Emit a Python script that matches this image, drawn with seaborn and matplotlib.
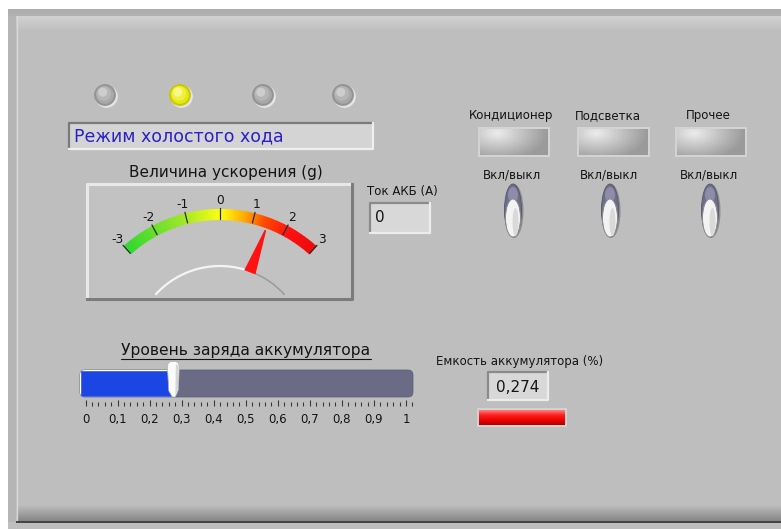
import numpy as np
import pandas as pd
import seaborn as sns
import matplotlib.pyplot as plt
from matplotlib.patches import Rectangle, FancyBboxPatch, Ellipse, Polygon, Wedge, Arc
from matplotlib.colors import LinearSegmentedColormap
from matplotlib.ticker import MultipleLocator, FuncFormatter

# Данные панели
led_states = [0, 1, 0, 0]          # горит второй индикатор
mode_text = 'Режим холостого хода'

gauge_title = 'Величина ускорения (g)'
gauge_ticks = [-3, -2, -1, 0, 1, 2, 3]
gauge_value = 1.45

current_label = 'Ток АКБ (А)'
current_value = '0'

switch_names = ['Кондиционер', 'Подсветка', 'Прочее']
switch_caption = 'Вкл/выкл'

charge_title = 'Уровень заряда аккумулятора'
charge_value = 0.274
charge_ticks = [0, 0.1, 0.2, 0.3, 0.4, 0.5, 0.6, 0.7, 0.8, 0.9, 1.0]

capacity_label = 'Емкость аккумулятора (%)'
capacity_text = '0,274'

# Размеры и стиль
W, H = 781, 529
sns.set_style('white')
plt.rcParams['font.family'] = ['DejaVu Sans']
TXT = '#151515'

fig = plt.figure(figsize=(W / 100, H / 100), dpi=100, facecolor='white')
ax = fig.add_axes([0, 0, 1, 1])
ax.set_axis_off()


def vgrad(x0, y0, x1, y1, colors, z=1):
    cmap = LinearSegmentedColormap.from_list('g', colors)
    ax.imshow(np.linspace(0, 1, 64).reshape(-1, 1), cmap=cmap, extent=(x0, x1, y1, y0),
              aspect='auto', zorder=z, interpolation='bilinear')


def bevel(x0, y0, x1, y1, face, tl, br, lw=1.5, z=2):
    ax.add_patch(Rectangle((x0, y0), x1 - x0, y1 - y0, facecolor=face, edgecolor='none', zorder=z))
    ax.plot([x0, x0, x1], [y1, y0, y0], color=tl, lw=lw, zorder=z + 0.1, solid_capstyle='projecting')
    ax.plot([x0, x1, x1], [y1, y1, y0], color=br, lw=lw, zorder=z + 0.1, solid_capstyle='projecting')


# Фон панели
ax.add_patch(Rectangle((8, 9), W - 8, H - 9, facecolor='#bebebe', edgecolor='none', zorder=0))
vgrad(8, 9, W, 16, ['#acacac', '#b2b2b2'])
vgrad(16, 16, W, 30, ['#d2d2d2', '#c0c0c0'])
ax.add_patch(Rectangle((8, 16), 8, 506, facecolor='#b5b5b5', edgecolor='none', zorder=1))
ax.plot([16.5, 16.5], [16, 520], color='#d8d8d8', lw=1.0, zorder=1.2)
vgrad(17, 505, W, 521, ['#bebebe', '#858585'])
ax.add_patch(Rectangle((16, 521), W - 16, 1.6, facecolor='#444444', edgecolor='none', zorder=1.3))

# Индикаторы
led_x = [105, 180, 263, 343]
df_led = pd.DataFrame({'x': led_x, 'y': [95] * 4, 'state': led_states})
ax.scatter(df_led['x'] + 0.8, df_led['y'] + 0.8, s=235, color='#e4e4e4', zorder=3)
ax.scatter(df_led['x'], df_led['y'], s=215,
           color=['#c8c800' if s else '#939393' for s in led_states], zorder=3.5)
sns.scatterplot(data=df_led, x='x', y='y', hue='state', palette={0: '#a8a8a8', 1: '#e6e614'},
                s=165, linewidth=0, legend=False, ax=ax, zorder=4)
ax.scatter(df_led['x'] - 1.2, df_led['y'] - 1.5, s=90,
           color=['#f0f040' if s else '#b6b6b6' for s in led_states], zorder=4.3)
ax.scatter(df_led['x'] - 2.2, df_led['y'] - 2.8, s=30,
           color=['#f8f88a' if s else '#cdcdcd' for s in led_states], zorder=4.5)

# Строка режима
bevel(69, 123, 373, 149, '#d4d4d4', '#7a7a7a', '#efefef', lw=1.6)
ax.text(74, 136.5, mode_text, fontsize=12.5, color='#2b20c6', va='center', ha='left', zorder=5)

# Стрелочный прибор
ax.text(226, 173, gauge_title, fontsize=11, color=TXT, ha='center', va='center')
bevel(87, 184, 352, 299, '#c2c2c2', '#e8e8e8', '#7c7c7c', lw=2.2)
cx, cy, span = 220, 353, 42.0
band = LinearSegmentedColormap.from_list('band', [
    (0.0, '#2fd82f'), (0.3, '#9be62a'), (0.5, '#ffff10'), (0.62, '#ffa800'),
    (0.72, '#ff4a00'), (0.85, '#ff1010'), (1.0, '#ec0a0a')])


def ang(v):
    return v / 3 * span


def pol(r, phi):
    p = np.radians(phi)
    return cx + r * np.sin(p), cy - r * np.cos(p)


vs = np.linspace(-3, 3, 121)
for a, b in zip(vs[:-1], vs[1:]):
    ax.add_patch(Wedge((cx, cy), 144, -90 + ang(a), -90 + ang(b) + 0.25, width=11,
                       facecolor=band((a + 3) / 6), edgecolor='none', zorder=3))
for t in gauge_ticks:
    (x0, y0), (x1, y1) = pol(134, ang(t)), pol(145, ang(t))
    ax.plot([x0, x1], [y0, y1], color='#2a2a2a', lw=0.9, zorder=3.5)
    lx, ly = pol(153, ang(t))
    ax.text(lx, ly, str(t), fontsize=8.8, color=TXT, ha='center', va='center')

pn = ang(gauge_value)
ax.add_patch(Arc((cx, cy), 174, 174, theta1=-90 - 48, theta2=-90 + pn, color='#f4f4f4', lw=1.6, zorder=3))
ax.add_patch(Arc((cx, cy), 174, 174, theta1=-90 + pn, theta2=-90 + 48, color='#9a9a9a', lw=1.1, zorder=3))
u = np.array([np.sin(np.radians(pn)), -np.cos(np.radians(pn))])
pp = np.array([-u[1], u[0]])
c = np.array([cx, cy])
needle = [c + 86 * u + 6 * pp, c + 131 * u + 0.8 * pp, c + 131 * u - 0.8 * pp, c + 86 * u - 6 * pp]
ax.add_patch(Polygon(needle, closed=True, facecolor='#ff1212', edgecolor='none', zorder=6))

# Ток АКБ
ax.text(367, 191, current_label, fontsize=8.5, color=TXT, ha='left', va='center')
bevel(370, 203, 430, 233, '#d8d8d8', '#8a8a8a', '#ececec', lw=1.6)
ax.text(375, 218, current_value, fontsize=11, color=TXT, ha='left', va='center')

# Переключатели
name_x = [511, 608, 708]
box_x = [(478, 550), (577, 650), (675, 747)]
sw_x = [513, 610, 710]
gy, gx = np.mgrid[0:1:40j, 0:1:80j]
glow = np.clip(1 - np.sqrt(((gx - 0.25) / 0.75) ** 2 + ((gy - 0.15) / 1.1) ** 2), 0, 1)
btn_cmap = LinearSegmentedColormap.from_list('btn', ['#9a9a9a', '#c2c2c2', '#ececec'])
for name, nx, (bx0, bx1), sx in zip(switch_names, name_x, box_x, sw_x):
    ax.text(nx, 116, name, fontsize=8.5, color=TXT, ha='center', va='center')
    ax.add_patch(Rectangle((bx0, 127), bx1 - bx0, 30, facecolor='#d3d3d3', edgecolor='none', zorder=2))
    ax.imshow(glow, cmap=btn_cmap, extent=(bx0 + 2, bx1 - 2, 155, 129), aspect='auto',
              zorder=2.5, interpolation='bilinear')
    ax.text(sx - 1, 175, switch_caption, fontsize=8.5, color=TXT, ha='center', va='center')
    ax.add_patch(Ellipse((sx + 1, 211), 19, 54, facecolor='#8c8c8c', edgecolor='none', zorder=3))
    ax.add_patch(Ellipse((sx, 210), 17, 52, facecolor='#6e6e8b', edgecolor='#56566a', lw=0.6, zorder=3.2))
    ax.add_patch(Ellipse((sx, 195), 10, 16, facecolor='#8d8dab', edgecolor='none', zorder=3.3))
    ax.add_patch(Ellipse((sx, 218), 15, 38, facecolor='#f3f3f3', edgecolor='#8a8a8a', lw=0.7, zorder=3.5))
    ax.add_patch(Ellipse((sx + 2.5, 222), 6, 28, facecolor='#d9d9d9', edgecolor='none', zorder=3.6))

# Уровень заряда
t_charge = ax.text(246, 350, charge_title, fontsize=11.2, color=TXT, ha='center', va='center')
track = FancyBboxPatch((80, 370), 333, 27, boxstyle='round,pad=0,rounding_size=5',
                       facecolor='#6b6b86', edgecolor='#5a5a70', lw=0.5, zorder=2)
ax.add_patch(track)

sc0, sc1 = 85.5, 406.0
k = 1 / (sc1 - sc0)
lo, hi = (80 - sc0) * k, (413 - sc0) * k
ax_s = fig.add_axes([80 / W, 1 - 406 / H, 333 / W, 48 / H])
ax_s.patch.set_alpha(0)
ax_s.set_xlim(lo, hi)
ax_s.set_ylim(406, 358)
fill = ax_s.barh(383.5, charge_value - lo, left=lo, height=27, color='#1c46e4', zorder=2)
for bar in fill:
    bar.set_clip_path(track)
xs = charge_value
thumb = [(xs - 6 * k, 366), (xs - 5 * k, 363), (xs - 2.5 * k, 361.5), (xs + 2.5 * k, 361.5),
         (xs + 5 * k, 363), (xs + 6 * k, 366), (xs + 5 * k, 390), (xs + 2 * k, 397),
         (xs - 1 * k, 397), (xs - 4.5 * k, 391)]
ax_s.add_patch(Polygon(thumb, closed=True, facecolor='#fbfbfb', edgecolor='#b0b0b0', lw=0.5,
                       zorder=4, clip_on=False))
ax_s.add_patch(Polygon([(xs + 2.5 * k, 364), (xs + 5.5 * k, 366), (xs + 4.6 * k, 390),
                        (xs + 2 * k, 396)], closed=True, facecolor='#d6d6d6', edgecolor='none',
                       zorder=4.5, clip_on=False))
for s in ax_s.spines.values():
    s.set_visible(False)
ax_s.set_yticks([])
ax_s.set_xticks(charge_ticks)
ax_s.xaxis.set_minor_locator(MultipleLocator(0.02))
ax_s.xaxis.set_major_formatter(FuncFormatter(lambda v, _: f'{v:g}'.replace('.', ',')))
ax_s.tick_params(axis='x', which='both', direction='in', width=0.8, color='#3a3a3a',
                 pad=5, labelsize=8.5, labelcolor=TXT, bottom=True)
ax_s.tick_params(axis='x', which='major', length=4)
ax_s.tick_params(axis='x', which='minor', length=3)

# Емкость аккумулятора
ax.text(520, 362, capacity_label, fontsize=8.5, color=TXT, ha='center', va='center')
bevel(488, 372, 548, 400, '#d8d8d8', '#8a8a8a', '#ececec', lw=1.6)
ax.text(518, 387, capacity_text, fontsize=11, color=TXT, ha='center', va='center')
ax.add_patch(Rectangle((477, 408), 90, 19, facecolor='#d2d2d2', edgecolor='none', zorder=2))
vgrad(479, 410, 565, 425, ['#ff8080', '#ff2020', '#ee0000', '#b00000'], z=3)

ax.set_xlim(0, W)
ax.set_ylim(H, 0)

# Подчеркивание заголовка шкалы
fig.canvas.draw()
bb = t_charge.get_window_extent().transformed(ax.transData.inverted())
ax.plot([bb.x0, bb.x1], [358.5, 358.5], color=TXT, lw=0.8)

fig.savefig('out.png', dpi=100, facecolor='white')
